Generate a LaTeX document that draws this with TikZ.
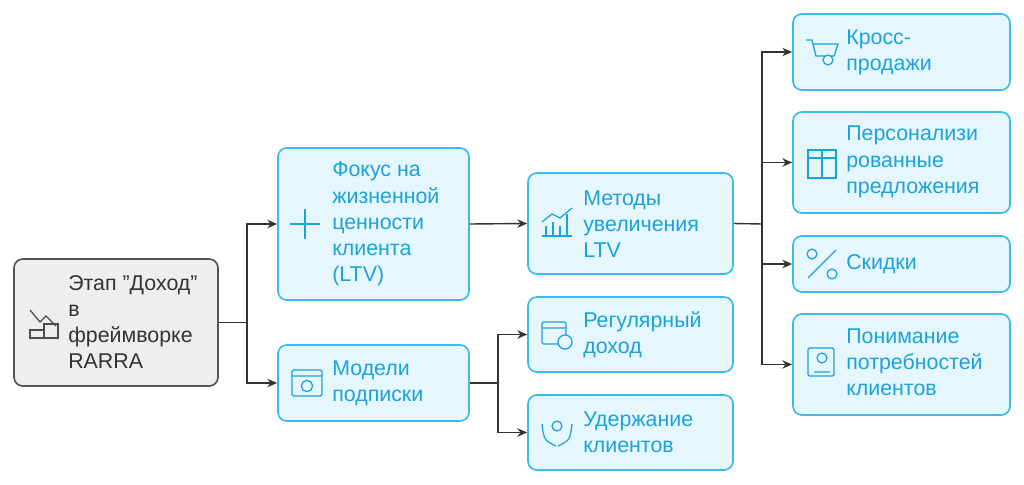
\documentclass[tikz,border=0pt]{standalone}
\usepackage{fontspec}
\setmainfont{Liberation Sans}
\usetikzlibrary{arrows.meta}
\definecolor{boxline}{HTML}{3DBBE8}
\definecolor{boxfill}{HTML}{E6F6FD}
\definecolor{boxtext}{HTML}{1AA3DB}
\definecolor{rootfill}{HTML}{EEEEEE}
\definecolor{rootline}{HTML}{555555}
\definecolor{wire}{HTML}{333333}
\begin{document}
\begin{tikzpicture}[x=0.025cm,y=-0.025cm,
    box/.style={draw=boxline,fill=boxfill,line width=1.2pt,rounded corners=0.22cm,inner sep=0pt},
    rootbox/.style={draw=rootline,fill=rootfill,line width=1.2pt,rounded corners=0.22cm,inner sep=0pt},
    label/.style={anchor=west,align=left,text=boxtext,inner sep=0pt,font=\fontsize{15.2}{18.6}\selectfont},
    icon/.style={draw=boxtext,line width=0.9pt},
    link/.style={draw=wire,line width=1pt,-{Stealth[length=7pt,width=6pt]}}]
\useasboundingbox (0,0) rectangle (1024,485);

% boxes
\node[rootbox,minimum width=204*0.025cm,minimum height=127*0.025cm] (root) at (116,322.5) {};
\node[box,minimum width=191*0.025cm,minimum height=152*0.025cm] (focus) at (373.5,224) {};
\node[box,minimum width=191*0.025cm,minimum height=76*0.025cm] (models) at (373.5,383) {};
\node[box,minimum width=205*0.025cm,minimum height=101*0.025cm] (methods) at (630.5,223.5) {};
\node[box,minimum width=205*0.025cm,minimum height=75*0.025cm] (regular) at (630.5,334.5) {};
\node[box,minimum width=205*0.025cm,minimum height=75*0.025cm] (retain) at (630.5,432.5) {};
\node[box,minimum width=217*0.025cm,minimum height=76*0.025cm] (cross) at (901.5,52) {};
\node[box,minimum width=217*0.025cm,minimum height=101*0.025cm] (personal) at (901.5,162.5) {};
\node[box,minimum width=217*0.025cm,minimum height=56*0.025cm] (discount) at (901.5,264) {};
\node[box,minimum width=217*0.025cm,minimum height=101*0.025cm] (needs) at (901.5,364.5) {};

% texts
\node[label,text=black!80] (roott) at (68,322) {Этап \symbol{34}Доход\symbol{34}\\в\\фреймворке\\RARRA};
\node[label] (focust) at (332,224) {Фокус на\\жизненной\\ценности\\клиента\\(LTV)};
\node[label] (modelst) at (332,383) {Модели\\подписки};
\node[label] (methodst) at (583,224) {Методы\\увеличения\\LTV};
\node[label] (regulart) at (583,335) {Регулярный\\доход};
\node[label] (retaint) at (583,432) {Удержание\\клиентов};
\node[label] (crosst) at (846,52) {Кросс-\\продажи};
\node[label] (personalt) at (846,162) {Персонализи\\рованные\\предложения};
\node[label] (discountt) at (846,264) {Скидки};
\node[label] (needst) at (846,362) {Понимание\\потребностей\\клиентов};

% icons
\draw[icon,draw=black!70] (30,310) -- (40,322) -- (46,316) -- (56,326);
\draw[icon,draw=black!70] (30,330) rectangle (44,338) (44,324) rectangle (58,338);
\draw[icon] (290,224) -- (320,224) (305,209) -- (305,239);
\draw[icon,rounded corners=1pt] (292,370) rectangle (322,396) (292,376) -- (322,376);
\draw[icon] (307,386) circle (4pt);
\draw[icon] (542,236) -- (572,236) (546,236) -- (546,226) (553,236) -- (553,222) (560,236) -- (560,226) (567,236) -- (567,214);
\draw[icon] (542,222) -- (552,214) -- (560,218) -- (572,208);
\draw[icon,rounded corners=1pt] (542,322) rectangle (566,344) (542,328) -- (566,328);
\draw[icon,fill=boxfill] (565,342) circle (5pt);
\draw[icon] (557,426) circle (3.5pt);
\draw[icon] (542,424) .. controls (544,440) .. (556,446) (572,424) .. controls (570,440) .. (558,446);
\draw[icon] (806,40) -- (812,40) -- (816,56) -- (834,56) -- (838,44) -- (813,44);
\draw[icon,fill=boxfill] (828,60) circle (3.5pt);
\draw[icon] (808,150) rectangle (836,178) (808,158) -- (836,158) (822,150) -- (822,178);
\draw[icon] (808,278) -- (836,250);
\draw[icon] (812,254) circle (3.5pt) (832,274) circle (3.5pt);
\draw[icon,rounded corners=1pt] (808,348) rectangle (834,376);
\draw[icon] (822,358) circle (3.5pt) (814,372) -- (830,372);

% connectors
\coordinate (j1) at (247,322.5);
\coordinate (j2) at (498,383);
\coordinate (j3) at (762,224);
\draw[wire,line width=1pt] (root.east) -- (j1);
\draw[link] (j1) |- (focus.west);
\draw[link] (j1) |- (models.west);
\draw[link] (focus.east) -- (methods.west);
\draw[wire,line width=1pt] (models.east) -- (j2);
\draw[link] (j2) |- (regular.west);
\draw[link] (j2) |- (retain.west);
\draw[wire,line width=1pt] (methods.east) -- (j3);
\draw[link] (j3) |- (cross.west);
\draw[link] (j3) |- (personal.west);
\draw[link] (j3) |- (discount.west);
\draw[link] (j3) |- (needs.west);
\end{tikzpicture}
\end{document}
